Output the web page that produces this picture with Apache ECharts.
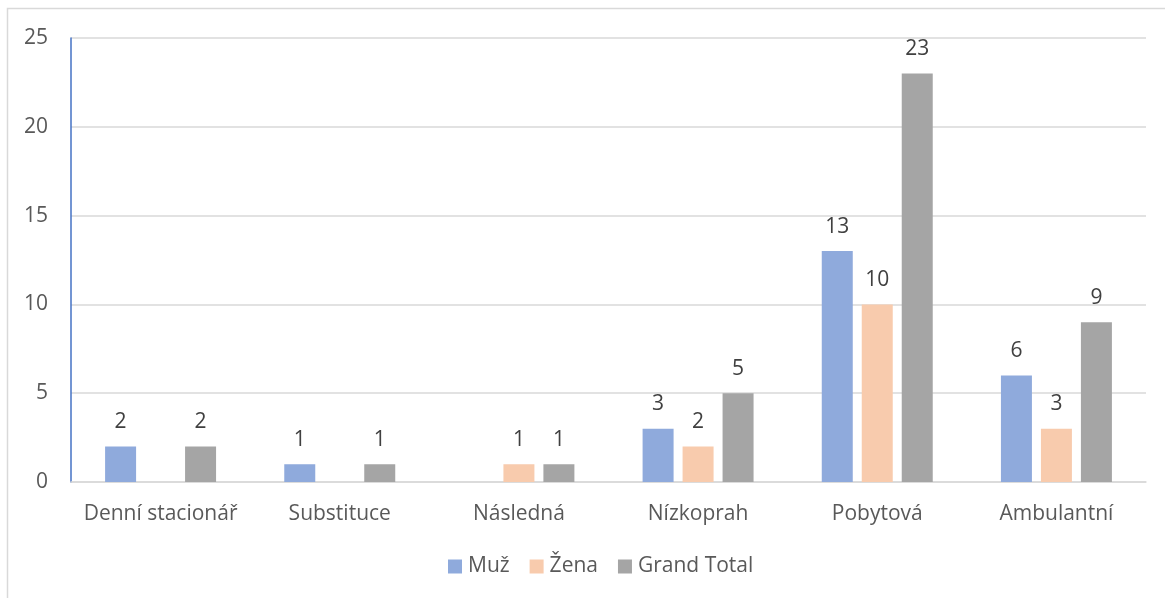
<!DOCTYPE html>
<html><head><meta charset="utf-8">
<script src="https://cdn.jsdelivr.net/npm/echarts@6/dist/echarts.min.js"></script>
<style>html,body{margin:0;padding:0;background:#fff}#c{width:1165px;height:598px}</style>
</head><body><div id="c"></div>
<script>
const categories = ['Denní stacionář','Substituce','Následná','Nízkoprah','Pobytová','Ambulantní'];
const muz = [2, 1, null, 3, 13, 6];
const zena = [null, null, 1, 2, 10, 3];
const grandTotal = [2, 1, 1, 5, 23, 9];
const seriesNames = ['Muž','Žena','Grand Total'];
const colors = ['#8FAADC','#F8CBAD','#A5A5A5'];

const FONT = '"Open Sans", "Noto Sans", sans-serif';
const FS = 21;
const chart = echarts.init(document.getElementById('c'), null, {renderer:'canvas'});
const mk = (name, data, color) => ({
  name, type:'bar', data, barWidth:31, barGap:'29%',
  itemStyle:{color},
  label:{show:true, position:'top', distance:14, color:'#404040', fontSize:FS, fontFamily:FONT},
});
chart.setOption({
  animation:false,
  textStyle:{fontFamily:FONT},
  graphic:[{type:'rect', shape:{x:7.5,y:8.5,width:1300,height:700}, style:{fill:'none', stroke:'#D9D9D9', lineWidth:1.5}, silent:true, z:-1}],
  grid:{left:71, right:19, top:38, bottom:116},
  legend:{top:551, left:443, itemWidth:14, itemHeight:14, itemGap:20, icon:'rect',
    textStyle:{color:'#595959', fontSize:FS, fontFamily:FONT, padding:[0,0,0,1]}, data:seriesNames},
  xAxis:{type:'category', data:categories,
    axisLine:{lineStyle:{color:'#D9D9D9', width:1.5}}, axisTick:{show:false},
    axisLabel:{color:'#595959', fontSize:FS, margin:22, interval:0, fontFamily:FONT}},
  yAxis:{type:'value', min:0, max:25, interval:5,
    axisLine:{show:true, lineStyle:{color:'#4472C4', width:1.5}},
    splitLine:{lineStyle:{color:'#D9D9D9', width:1.5}},
    axisLabel:{color:'#595959', fontSize:FS, margin:23, fontFamily:FONT}},
  series:[mk(seriesNames[0], muz, colors[0]), mk(seriesNames[1], zena, colors[1]), mk(seriesNames[2], grandTotal, colors[2])]
});
</script></body></html>
